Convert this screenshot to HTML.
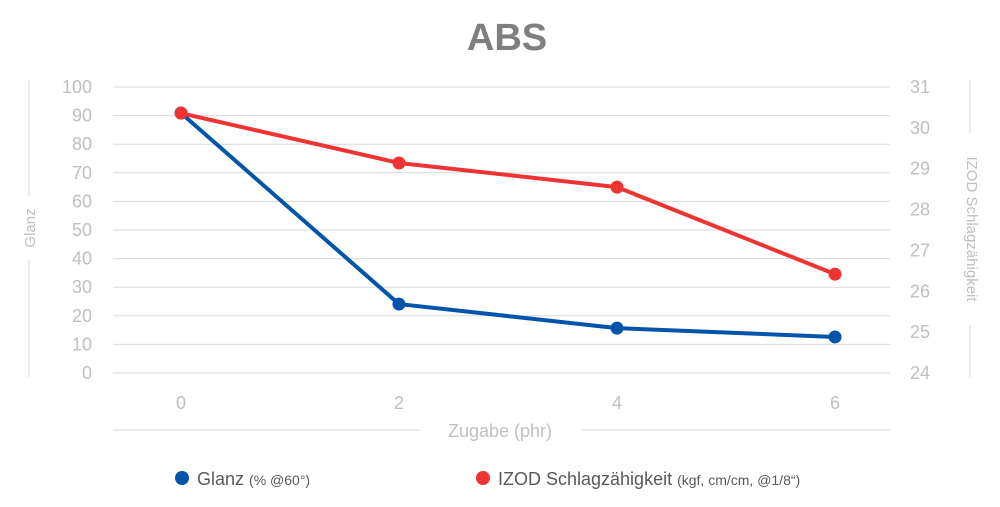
<!DOCTYPE html>
<html><head><meta charset="utf-8"><style>
body{margin:0;background:#fff;}
svg{display:block;font-family:"Liberation Sans",sans-serif;}
</style></head><body>
<svg id="c" width="1000" height="507">
<text x="507" y="50" text-anchor="middle" font-size="38" font-weight="bold" fill="#7f7f7f">ABS</text>
<g id="grid"></g><g id="lt"></g><g id="rt"></g><g id="xt"></g><g id="series"></g>
<line x1="29" y1="80" x2="29" y2="196" stroke="#d9d9d9"/>
<line x1="29" y1="260" x2="29" y2="377" stroke="#d9d9d9"/>
<text transform="translate(35,228) rotate(-90)" text-anchor="middle" font-size="15" fill="#bfbfbf">Glanz</text>
<line x1="970" y1="80" x2="970" y2="133" stroke="#d9d9d9"/>
<line x1="970" y1="325" x2="970" y2="377" stroke="#d9d9d9"/>
<text transform="translate(967,229) rotate(90)" text-anchor="middle" font-size="15" fill="#bfbfbf">IZOD Schlagzähigkeit</text>
<line x1="113" y1="430" x2="420" y2="430" stroke="#d9d9d9"/>
<line x1="582" y1="430" x2="890" y2="430" stroke="#d9d9d9"/>
<text x="500" y="437" text-anchor="middle" font-size="18" fill="#bfbfbf">Zugabe (phr)</text>
<g>
<circle cx="182" cy="478" r="7" fill="#0055aa"/>
<text x="197" y="485" font-size="18" fill="#595959">Glanz <tspan font-size="14">(% @60°)</tspan></text></g>
<g>
<circle cx="483" cy="478" r="7" fill="#ee3333"/>
<text x="498" y="485" font-size="18" fill="#595959">IZOD Schlagzähigkeit <tspan font-size="14">(kgf, cm/cm, @1/8“)</tspan></text></g>
</svg>
<script>
const categories=["0","2","4","6"];
const glanz=[90.9,24.1,15.7,12.6];
const izod=[30.36,29.14,28.55,26.42];
const leftTicks=[0,10,20,30,40,50,60,70,80,90,100];
const rightTicks=[24,25,26,27,28,29,30,31];
const NS="http://www.w3.org/2000/svg";
const x=i=>181+i*218;
const yl=v=>373-v*2.86;
const yr=v=>373-(v-24)*(286/7);
function mk(p,tag,a){const e=document.createElementNS(NS,tag);for(const k in a)e.setAttribute(k,a[k]);document.getElementById(p).appendChild(e);return e;}
leftTicks.forEach(t=>{
 const g=mk("grid","line",{x1:113,x2:890,y1:yl(t),y2:yl(t),stroke:"#d9d9d9"});
 
 
 const e=mk("lt","text",{x:92,y:yl(t)+6,"text-anchor":"end","font-size":18,fill:"#bfbfbf"});e.textContent=t;
 
 
});
rightTicks.forEach(t=>{
 const e=mk("rt","text",{x:910,y:yr(t)+6,"font-size":18,fill:"#bfbfbf"});e.textContent=t;
 
 
});
categories.forEach((c,i)=>{
 const e=mk("xt","text",{x:x(i),y:409,"text-anchor":"middle","font-size":18,fill:"#bfbfbf"});e.textContent=c;
 
 
});
function series(vals,yf,col,name){
 const l=mk("series","polyline",{points:vals.map((v,i)=>x(i)+","+yf(v)).join(" "),fill:"none",stroke:col,"stroke-width":4,"stroke-linejoin":"round"});
 
 
 vals.forEach((v,i)=>{const p=mk("series","circle",{cx:x(i),cy:yf(v),r:6.5,fill:col});
 
 });
}
series(glanz,yl,"#0055aa","glanz");
series(izod,yr,"#ee3333","izod");
</script>
</body></html>
